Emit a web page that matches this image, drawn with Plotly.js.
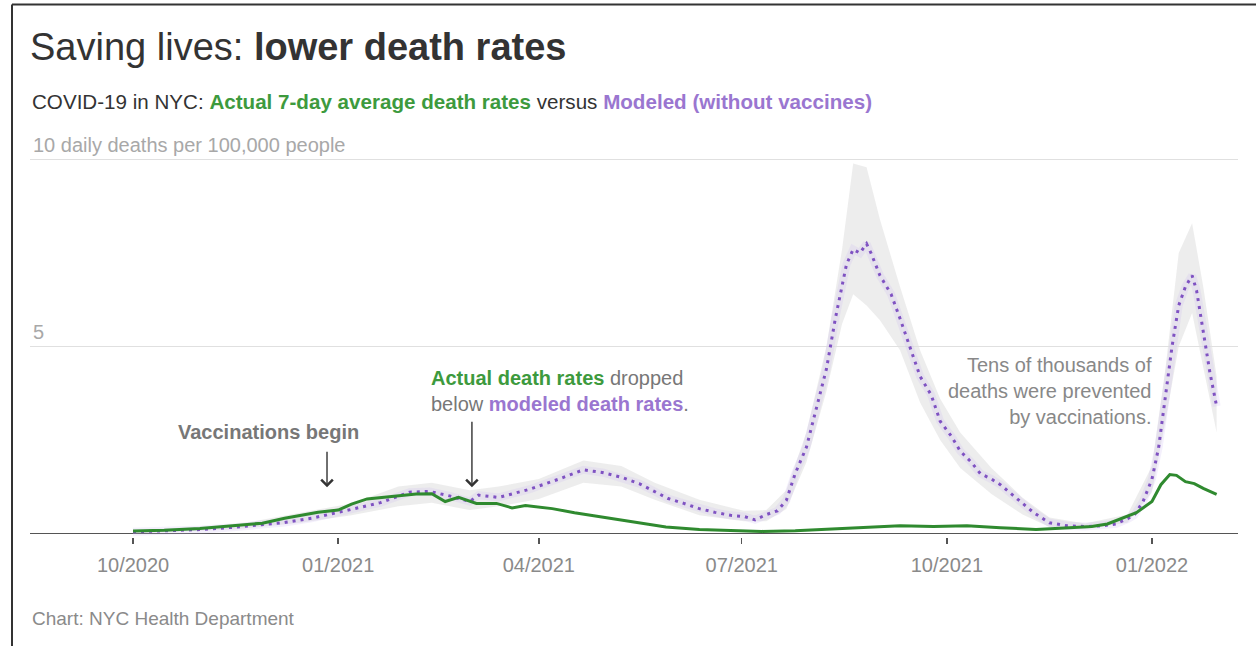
<!DOCTYPE html>
<html>
<head>
<meta charset="utf-8">
<script src="https://cdn.plot.ly/plotly-3.0.1.min.js"></script>
<style>html,body{margin:0;padding:0;background:#fff;}#chart{width:1256px;height:646px;}</style>
</head>
<body>
<div id="chart"></div>
<script>
// ---------- DATA ----------
const actualDates = ['2020-10-01','2020-10-15','2020-10-31','2020-11-15','2020-11-28','2020-12-08','2020-12-23','2021-01-01','2021-01-07','2021-01-14','2021-01-26','2021-02-05','2021-02-12','2021-02-18','2021-02-24','2021-03-04','2021-03-13','2021-03-20','2021-03-26','2021-04-07','2021-04-17','2021-04-28','2021-05-13','2021-05-28','2021-06-12','2021-06-27','2021-07-10','2021-07-25','2021-08-10','2021-08-25','2021-09-10','2021-09-25','2021-10-10','2021-10-25','2021-11-10','2021-11-25','2021-12-05','2021-12-12','2021-12-19','2021-12-25','2022-01-01','2022-01-05','2022-01-09','2022-01-12','2022-01-16','2022-01-20','2022-01-24','2022-01-30'];
const actualValues = [0.06,0.08,0.13,0.2,0.27,0.4,0.56,0.62,0.78,0.92,1.0,1.05,1.06,0.85,0.96,0.8,0.8,0.68,0.74,0.66,0.55,0.45,0.3,0.17,0.1,0.07,0.05,0.07,0.12,0.17,0.2,0.18,0.2,0.15,0.1,0.15,0.18,0.25,0.4,0.55,0.85,1.3,1.57,1.55,1.38,1.33,1.2,1.04];

const modelDates = ['2020-10-01','2020-10-15','2020-11-01','2020-11-15','2020-12-01','2020-12-08','2020-12-20','2021-01-01','2021-01-07','2021-01-20','2021-02-02','2021-02-11','2021-02-20','2021-03-01','2021-03-05','2021-03-14','2021-03-28','2021-04-10','2021-04-21','2021-04-30','2021-05-08','2021-05-16','2021-05-23','2021-05-29','2021-06-05','2021-06-12','2021-06-19','2021-06-26','2021-07-02','2021-07-07','2021-07-12','2021-07-17','2021-07-21','2021-07-25','2021-07-30','2021-08-03','2021-08-08','2021-08-12','2021-08-17','2021-08-20','2021-08-23','2021-08-26','2021-08-28','2021-09-01','2021-09-06','2021-09-10','2021-09-15','2021-09-19','2021-09-24','2021-09-28','2021-10-03','2021-10-07','2021-10-12','2021-10-16','2021-10-21','2021-10-25','2021-11-01','2021-11-09','2021-11-16','2021-11-24','2021-12-02','2021-12-10','2021-12-16','2021-12-21','2021-12-24','2021-12-28','2022-01-01','2022-01-04','2022-01-07','2022-01-10','2022-01-13','2022-01-16','2022-01-19','2022-01-21','2022-01-24','2022-01-27','2022-01-30'];
const modelValues = [0.04,0.06,0.1,0.16,0.24,0.29,0.4,0.55,0.64,0.82,1.1,1.12,1.0,0.85,1.02,0.96,1.18,1.45,1.7,1.62,1.5,1.33,1.12,0.93,0.8,0.66,0.56,0.48,0.45,0.36,0.5,0.6,0.88,1.6,2.3,3.27,4.4,5.75,7.2,7.6,7.5,7.75,7.5,6.9,6.4,5.75,4.9,4.2,3.7,3.0,2.6,2.2,1.9,1.6,1.45,1.3,0.95,0.55,0.28,0.2,0.18,0.2,0.25,0.38,0.48,0.85,1.45,2.3,3.6,5.0,6.1,6.6,6.9,6.5,5.4,4.3,3.4];

const bandDates = ['2020-10-01','2020-11-15','2020-12-15','2021-01-07','2021-01-28','2021-02-12','2021-03-01','2021-03-14','2021-04-01','2021-04-21','2021-05-08','2021-05-23','2021-06-12','2021-07-02','2021-07-12','2021-07-21','2021-07-30','2021-08-08','2021-08-15','2021-08-20','2021-08-26','2021-09-01','2021-09-10','2021-09-19','2021-09-28','2021-10-07','2021-10-21','2021-11-04','2021-11-16','2021-12-02','2021-12-21','2022-01-01','2022-01-07','2022-01-13','2022-01-19','2022-01-24','2022-01-30'];
const bandHigh = [0.08,0.22,0.55,0.8,1.25,1.35,1.15,1.25,1.45,1.95,1.8,1.35,0.9,0.6,0.62,1.15,2.7,5.0,7.6,9.9,9.8,8.4,6.6,4.9,3.6,2.7,1.75,0.95,0.42,0.26,0.5,1.8,4.4,7.5,8.3,6.6,4.2];
const bandLow  = [0.0,0.1,0.28,0.48,0.72,0.82,0.62,0.72,0.92,1.35,1.25,0.9,0.48,0.32,0.32,0.65,1.9,3.8,5.6,6.4,6.1,5.7,4.9,3.5,2.5,1.75,1.05,0.5,0.17,0.12,0.28,1.1,3.0,5.0,5.9,4.4,2.7];

const xTickVals = ['2020-10-01','2021-01-01','2021-04-01','2021-07-01','2021-10-01','2022-01-01'];
const xTickText = ['10/2020','01/2021','04/2021','07/2021','10/2021','01/2022'];
const yTickVals = [5, 10];
const yTickText = ['5', '10 daily deaths per 100,000 people'];

// ---------- LAYOUT HELPERS ----------
const W = 1256, H = 646;
const L = 30, R = 1238;
const yMin = -0.1, yMax = 10.1;
const y0px = 533, y10px = 160;
const ppu = (y0px - y10px) / 10;
const T = y10px - (yMax - 10) * ppu;
const B = y0px + (0 - yMin) * ppu;
const px = x => (x - L) / (R - L);
const py = y => (B - y) / (B - T);

const FONT = '"Liberation Sans", Arial, sans-serif';
const GREEN = '#2f8a2f';
const GREEN_T = '#3d9a3d';
const PURPLE = '#7f52c2';
const PURPLE_T = '#9a76d0';
const GREY_T = '#777777';

const traces = [
  {x: bandDates, y: bandLow, type: 'scatter', mode: 'lines', line: {width: 0, color: 'rgba(0,0,0,0)'}, hoverinfo: 'skip', showlegend: false},
  {x: bandDates, y: bandHigh, type: 'scatter', mode: 'lines', fill: 'tonexty', fillcolor: 'rgba(225,225,225,0.6)', line: {width: 0, color: 'rgba(0,0,0,0)'}, hoverinfo: 'skip', showlegend: false},
  {x: modelDates, y: modelValues, type: 'scatter', mode: 'lines', line: {width: 8, color: 'rgba(200,180,240,0.2)'}, hoverinfo: 'skip', showlegend: false},
  {x: modelDates, y: modelValues, type: 'scatter', mode: 'lines', line: {width: 3, color: PURPLE, dash: '3px,5px'}, name: 'Modeled', showlegend: false},
  {x: actualDates, y: actualValues, type: 'scatter', mode: 'lines', line: {width: 3, color: GREEN}, name: 'Actual', showlegend: false}
];

const annotations = [];
// y tick labels
yTickVals.forEach((v, i) => {
  annotations.push({xref: 'paper', yref: 'y', x: px(31), y: v, xanchor: 'left', yanchor: 'bottom', yshift: 2,
    text: yTickText[i], showarrow: false, font: {family: FONT, size: 20, color: '#a8a8a8'}});
});
// subtitle
annotations.push({xref: 'paper', yref: 'paper', x: px(30), y: py(102), xanchor: 'left', yanchor: 'middle', showarrow: false,
  text: 'COVID-19 in NYC: <b><span style="color:' + GREEN_T + '">Actual 7-day average death rates</span></b> versus <b><span style="color:' + PURPLE_T + '">Modeled (without vaccines)</span></b>',
  font: {family: FONT, size: 20.6, color: '#333333'}});
// footer
annotations.push({xref: 'paper', yref: 'paper', x: px(30), y: py(618), xanchor: 'left', yanchor: 'middle', showarrow: false,
  text: 'Chart: NYC Health Department', font: {family: FONT, size: 19, color: '#8a8a8a'}});
// Vaccinations begin
annotations.push({xref: 'paper', yref: 'paper', x: px(268), y: py(432), xanchor: 'center', yanchor: 'middle', showarrow: false,
  text: '<b>Vaccinations begin</b>', font: {family: FONT, size: 20, color: GREY_T}});
annotations.push({xref: 'x', yref: 'y', x: '2020-12-27', y: (y0px - 487) / ppu, ax: 0, ay: -37, text: '', showarrow: true,
  arrowhead: 4, arrowsize: 1.6, arrowwidth: 1.4, arrowcolor: '#333'});
// Actual dropped below
annotations.push({xref: 'paper', yref: 'paper', x: px(429), y: py(391), xanchor: 'left', yanchor: 'middle', align: 'left', showarrow: false,
  text: '<b><span style="color:' + GREEN_T + '">Actual death rates</span></b> dropped<br>below <b><span style="color:' + PURPLE_T + '">modeled death rates</span></b>.',
  font: {family: FONT, size: 20, color: GREY_T}});
annotations.push({xref: 'x', yref: 'y', x: '2021-03-02', y: (y0px - 487) / ppu, ax: 0, ay: -67, text: '', showarrow: true,
  arrowhead: 4, arrowsize: 1.6, arrowwidth: 1.4, arrowcolor: '#333'});
// Tens of thousands
annotations.push({xref: 'paper', yref: 'paper', x: px(1154), y: py(391), xanchor: 'right', yanchor: 'middle', align: 'right', showarrow: false,
  text: 'Tens of thousands of<br>deaths were prevented<br>by vaccinations.',
  font: {family: FONT, size: 20, color: '#888888'}});

const shapes = [
  {type: 'line', xref: 'paper', yref: 'paper', x0: px(12), x1: px(1256), y0: py(5), y1: py(5), line: {color: '#333', width: 2}},
  {type: 'line', xref: 'paper', yref: 'paper', x0: px(12), x1: px(12), y0: py(5), y1: py(646), line: {color: '#333', width: 2}}
];

const layout = {
  width: W, height: H,
  margin: {l: L, r: W - R, t: T, b: H - B, pad: 0},
  paper_bgcolor: '#ffffff', plot_bgcolor: '#ffffff',
  title: {text: 'Saving lives: <b>lower death rates</b>', xref: 'container', yref: 'container', x: 30 / W, y: 1 - 47 / H,
    xanchor: 'left', yanchor: 'middle', font: {family: FONT, size: 38, color: '#333333'}},
  showlegend: false,
  xaxis: {type: 'date', range: ['2020-08-15 19:00', '2022-02-08 14:00'], tickvals: xTickVals, ticktext: xTickText,
    ticks: 'outside', ticklen: 6, tickwidth: 1.5, tickcolor: '#555', showgrid: false, zeroline: false, showline: false,
    ticklabelstandoff: 4,
    tickfont: {family: FONT, size: 20, color: '#8a8a8a'}, fixedrange: true},
  yaxis: {range: [yMin, yMax], tickvals: yTickVals, showticklabels: false, showgrid: true, gridcolor: '#e0e0e0', gridwidth: 1,
    zeroline: true, zerolinecolor: '#555', zerolinewidth: 1.5, showline: false, ticks: '', fixedrange: true},
  annotations: annotations,
  shapes: shapes
};

Plotly.newPlot('chart', traces, layout, {displayModeBar: false, staticPlot: true});
</script>
</body>
</html>
